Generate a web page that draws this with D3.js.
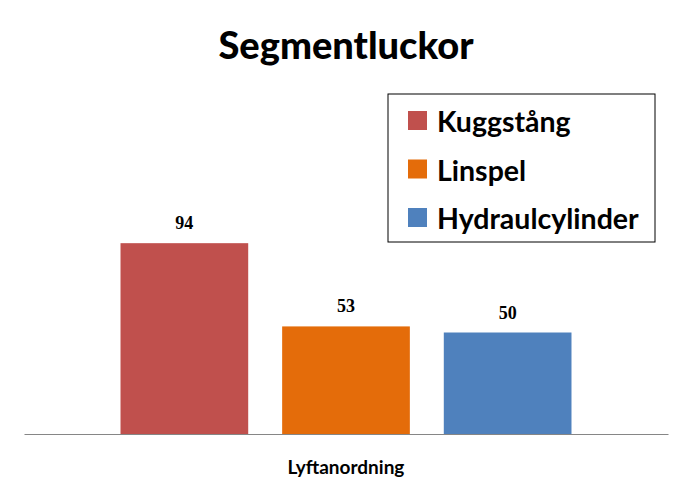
<!DOCTYPE html>
<html>
<head>
<meta charset="utf-8">
<script src="https://cdn.jsdelivr.net/npm/d3@7"></script>
<style>
  body { margin: 0; background: #fff; }
  svg { display: block; }
</style>
</head>
<body>
<svg id="chart"></svg>
<script>
const categories = ["Lyftanordning"];
const series = ["Kuggstång", "Linspel", "Hydraulcylinder"];
const values = [94, 53, 50];
const colors = ["#C0504D", "#E46C0A", "#4F81BD"];

const width = 692;
const height = 497;

const svg = d3.select("#chart")
  .attr("width", width)
  .attr("height", height);

const x0 = d3.scaleBand()
  .domain(categories)
  .range([24, 668])
  .paddingOuter(0.214);

const x1 = d3.scaleBand()
  .domain(series)
  .range([0, x0.bandwidth()])
  .paddingInner(0.21);

const y = d3.scaleLinear()
  .domain([0, 100])
  .range([434, 231]);

// title
svg.append("text")
  .attr("x", width / 2)
  .attr("y", 59)
  .attr("text-anchor", "middle")
  .style("font-family", "Lato, 'Open Sans', sans-serif")
  .style("font-weight", "900")
  .style("font-size", "38px")
  .text("Segmentluckor");

const group = svg.append("g")
  .attr("transform", `translate(${x0(categories[0])},0)`);

group.selectAll("rect")
  .data(series)
  .join("rect")
  .attr("x", d => x1(d))
  .attr("y", (d, i) => y(values[i]))
  .attr("width", x1.bandwidth())
  .attr("height", (d, i) => y(0) - y(values[i]))
  .attr("fill", (d, i) => colors[i]);

group.selectAll("text.val")
  .data(series)
  .join("text")
  .attr("class", "val")
  .attr("x", d => x1(d) + x1.bandwidth() / 2)
  .attr("y", (d, i) => y(values[i]) - 14)
  .attr("text-anchor", "middle")
  .style("font-family", "'Liberation Serif', serif")
  .style("font-weight", "bold")
  .style("font-size", "18px")
  .text((d, i) => values[i]);

// baseline / category axis
svg.append("g")
  .attr("transform", `translate(0,${y(0)})`)
  .call(d3.axisBottom(x0).tickSize(0).tickFormat(""))
  .call(g => g.select(".domain").attr("stroke", "#868686").attr("stroke-width", 1.2));

svg.append("text")
  .attr("x", x0(categories[0]) + x0.bandwidth() / 2)
  .attr("y", 474)
  .attr("text-anchor", "middle")
  .style("font-family", "Lato, 'Open Sans', sans-serif")
  .style("font-weight", "bold")
  .style("font-size", "19px")
  .text(categories[0]);

// legend
const legend = svg.append("g").attr("transform", "translate(388,94)");
legend.append("rect")
  .attr("width", 267)
  .attr("height", 148)
  .attr("fill", "#fff")
  .attr("stroke", "#000")
  .attr("stroke-width", 1);

const items = legend.selectAll("g.item")
  .data(series)
  .join("g")
  .attr("class", "item")
  .attr("transform", (d, i) => `translate(20,${27 + i * 48.5})`);

items.append("rect")
  .attr("x", 0)
  .attr("y", -10)
  .attr("width", 19)
  .attr("height", 19)
  .attr("fill", (d, i) => colors[i]);

items.append("text")
  .attr("x", 29)
  .attr("y", 11)
  .style("font-family", "Lato, 'Open Sans', sans-serif")
  .style("font-weight", "bold")
  .style("font-size", "28.5px")
  .text(d => d);
</script>
</body>
</html>
